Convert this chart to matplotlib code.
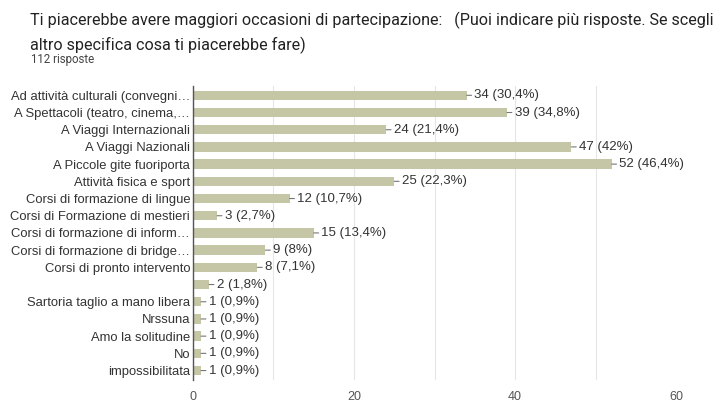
import matplotlib.pyplot as plt
import numpy as np

# data
labels = [
    "Ad attività culturali (convegni…",
    "A Spettacoli (teatro, cinema,…",
    "A Viaggi Internazionali",
    "A Viaggi Nazionali",
    "A Piccole gite fuoriporta",
    "Attività fisica e sport",
    "Corsi di formazione di lingue",
    "Corsi di Formazione di mestieri",
    "Corsi di formazione di inform…",
    "Corsi di formazione di bridge…",
    "Corsi di pronto intervento",
    "",
    "Sartoria taglio a mano libera",
    "Nrssuna",
    "Amo la solitudine",
    "No",
    "impossibilitata",
]
counts = [34, 39, 24, 47, 52, 25, 12, 3, 15, 9, 8, 2, 1, 1, 1, 1, 1]
pcts = ["30,4%", "34,8%", "21,4%", "42%", "46,4%", "22,3%", "10,7%", "2,7%",
        "13,4%", "8%", "7,1%", "1,8%", "0,9%", "0,9%", "0,9%", "0,9%", "0,9%"]
xticks = [0, 20, 40, 60]

bar_color = "#c5c6a5"
text_color = "#333333"

fig = plt.figure(figsize=(7.2, 4.03), dpi=100)
ax = fig.add_axes([0.268, 0.057, 0.671, 0.73])

y = np.arange(len(labels))
ax.barh(y, counts, height=0.55, color=bar_color, zorder=2)

for yi, c, p in zip(y, counts, pcts):
    ax.annotate("%d (%s)" % (c, p), xy=(c, yi), xytext=(5.5, 0),
                textcoords="offset points", va="center", ha="left",
                fontsize=9.5, family="Liberation Sans", color=text_color,
                arrowprops=dict(arrowstyle="-", color="#777777", lw=0.8,
                                shrinkA=0, shrinkB=0))

ax.set_yticks(y)
ax.set_yticklabels(labels, fontsize=9.4, family="Liberation Sans", color=text_color)
ax.set_ylim(len(labels) - 0.45, -0.55)
ax.set_xlim(0, 60)
ax.set_xticks(xticks)
ax.set_xticklabels([str(t) for t in xticks], fontsize=9,
                   family="Liberation Sans", color="#555555")
ax.set_xticks(np.arange(0, 61, 10), minor=True)
ax.grid(axis="x", which="both", color="#e6e6e6", lw=0.8, zorder=0)
ax.tick_params(which="both", length=0)
ax.tick_params(axis="y", pad=2)
ax.tick_params(axis="x", pad=8)
for s in ["top", "right", "bottom"]:
    ax.spines[s].set_visible(False)
ax.spines["left"].set_color("#555555")
ax.spines["left"].set_linewidth(1.0)
ax.spines["left"].set_zorder(3)

fig.text(0.042, 0.95, "Ti piacerebbe avere maggiori occasioni di partecipazione:   (Puoi indicare più risposte. Se scegli",
         fontsize=11.6, family="Roboto", color="#222222", va="center")
fig.text(0.042, 0.888, "altro specifica cosa ti piacerebbe fare)",
         fontsize=11.6, family="Roboto", color="#222222", va="center")
fig.text(0.043, 0.853, "112 risposte", fontsize=8.3, family="Roboto",
         color="#444444", va="center")

fig.savefig("out.png", dpi=100, facecolor="white")
